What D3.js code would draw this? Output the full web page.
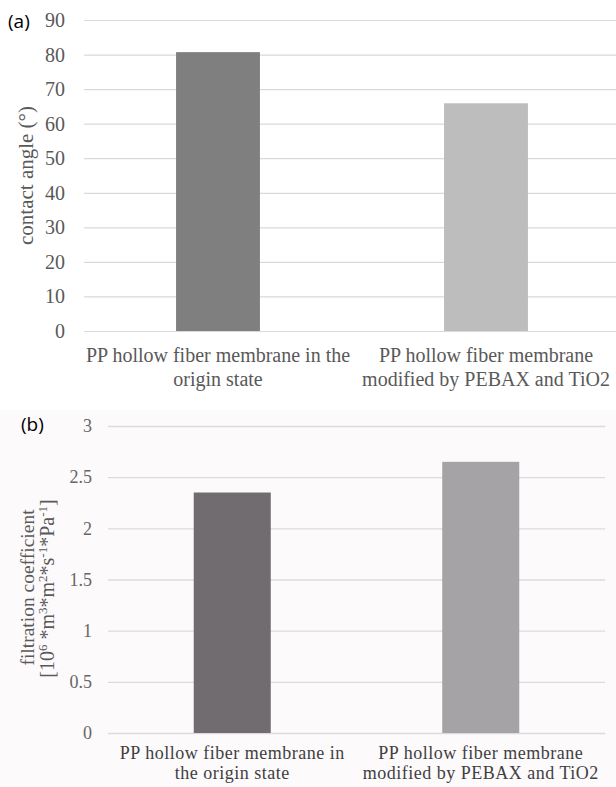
<!DOCTYPE html>
<html>
<head>
<meta charset="utf-8">
<script src="https://cdn.jsdelivr.net/npm/d3@7"></script>
<style>
  html, body { margin: 0; padding: 0; background: #ffffff; }
  svg { display: block; }
  .serif { font-family: "Liberation Serif", "Times New Roman", Times, serif; }
  .sans { font-family: "Open Sans", "Noto Sans", sans-serif; }
</style>
</head>
<body>
<svg id="chart" width="616" height="787"></svg>
<script>
// ---------- data ----------
const categoriesA = ["origin", "modified"];
const labelLinesA = [["PP hollow fiber membrane in the", "origin state"],
                     ["PP hollow fiber membrane", "modified by PEBAX and TiO2"]];
const valuesA = [80.7, 65.9];
const ticksA = [0, 10, 20, 30, 40, 50, 60, 70, 80, 90];

const categoriesB = ["origin", "modified"];
const labelLinesB = [["PP hollow fiber membrane in", "the origin state"],
                     ["PP hollow fiber membrane", "modified by PEBAX and TiO2"]];
const valuesB = [2.35, 2.65];
const ticksB = [0, 0.5, 1, 1.5, 2, 2.5, 3];

const svg = d3.select("#chart");

// ---------- panel (a) ----------
(function () {
  const x = d3.scaleBand().domain(categoriesA).range([84, 620]).paddingInner(0).paddingOuter(0);
  const y = d3.scaleLinear().domain([0, 90]).range([331, 20]);
  const g = svg.append("g");
  const barColors = ["#7f7f7f", "#bdbdbd"];

  g.selectAll("line.grid").data(ticksA).enter().append("line")
    .attr("x1", 84).attr("x2", 616)
    .attr("y1", d => y(d) + 0.5).attr("y2", d => y(d) + 0.5)
    .attr("stroke", "#d9d9d9").attr("stroke-width", 1.2);

  const bw = x.bandwidth() * 0.313;
  g.selectAll("rect.bar").data(valuesA).enter().append("rect")
    .attr("x", (d, i) => x(categoriesA[i]) + x.bandwidth() / 2 - bw / 2)
    .attr("width", bw)
    .attr("y", d => y(d))
    .attr("height", d => y(0) - y(d))
    .attr("fill", (d, i) => barColors[i]);

  g.selectAll("text.tick").data(ticksA).enter().append("text")
    .attr("class", "serif")
    .attr("x", 65).attr("y", d => y(d))
    .attr("dy", "0.35em")
    .attr("text-anchor", "end")
    .attr("font-size", 20)
    .attr("fill", "#595959")
    .text(d => d);

  labelLinesA.forEach((lines, i) => {
    const cx = x(categoriesA[i]) + x.bandwidth() / 2;
    lines.forEach((ln, j) => {
      g.append("text")
        .attr("class", "serif")
        .attr("x", cx).attr("y", 362 + j * 24)
        .attr("text-anchor", "middle")
        .attr("font-size", 20)
        .attr("fill", "#595959")
        .text(ln);
    });
  });

  g.append("text")
    .attr("class", "serif")
    .attr("transform", "translate(33," + ((y(0) + y(90)) / 2) + ") rotate(-90)")
    .attr("text-anchor", "middle")
    .attr("font-size", 21)
    .attr("fill", "#595959")
    .text("contact angle (°)");

  g.append("text")
    .attr("class", "sans")
    .attr("x", 8).attr("y", 28)
    .attr("font-size", 19)
    .attr("fill", "#000")
    .text("(a)");
})();

// ---------- panel (b) ----------
(function () {
  svg.append("rect").attr("x", 0).attr("y", 410).attr("width", 616).attr("height", 377)
    .attr("fill", "#fdfafc");
  const x = d3.scaleBand().domain(categoriesB).range([108, 605]).paddingInner(0).paddingOuter(0);
  const y = d3.scaleLinear().domain([0, 3]).range([733, 426]);
  const g = svg.append("g");
  const barColors = ["#716c70", "#a6a3a7"];

  g.selectAll("line.grid").data(ticksB).enter().append("line")
    .attr("x1", 108).attr("x2", 605)
    .attr("y1", d => y(d) + 0.5).attr("y2", d => y(d) + 0.5)
    .attr("stroke", "#dcdadb").attr("stroke-width", 1.3);

  const bw = x.bandwidth() * 0.31;
  g.selectAll("rect.bar").data(valuesB).enter().append("rect")
    .attr("x", (d, i) => x(categoriesB[i]) + x.bandwidth() / 2 - bw / 2)
    .attr("width", bw)
    .attr("y", d => y(d))
    .attr("height", d => y(0) - y(d))
    .attr("fill", (d, i) => barColors[i]);

  g.selectAll("text.tick").data(ticksB).enter().append("text")
    .attr("class", "serif")
    .attr("x", 92).attr("y", d => y(d))
    .attr("dy", "0.35em")
    .attr("text-anchor", "end")
    .attr("font-size", 18)
    .attr("fill", "#666")
    .text(d => d);

  labelLinesB.forEach((lines, i) => {
    const cx = x(categoriesB[i]) + x.bandwidth() / 2;
    lines.forEach((ln, j) => {
      g.append("text")
        .attr("class", "serif")
        .attr("x", cx).attr("y", 759 + j * 20)
        .attr("text-anchor", "middle")
        .attr("font-size", 18)
        .attr("letter-spacing", 0.5)
        .attr("fill", "#3f3f3f")
        .text(ln);
    });
  });

  g.append("text")
    .attr("class", "serif")
    .attr("transform", "translate(34,587.5) rotate(-90)")
    .attr("text-anchor", "middle")
    .attr("font-size", 19.5)
    .attr("fill", "#595959")
    .text("filtration  coefficient");

  const t2 = g.append("text")
    .attr("class", "serif")
    .attr("transform", "translate(54,588.5) rotate(-90)")
    .attr("text-anchor", "middle")
    .attr("font-size", 20)
    .attr("fill", "#595959");
  const parts = [["[10", "6"], [" *m", "3"], ["*m", "2"], ["*s", "-1"], ["*Pa", "-1"], ["]", null]];
  let shifted = false;
  parts.forEach(([base, sup]) => {
    t2.append("tspan").attr("dy", shifted ? 7 : 0).text(base);
    shifted = false;
    if (sup) {
      t2.append("tspan").attr("dy", -7).attr("font-size", 13).text(sup);
      shifted = true;
    }
  });

  g.append("text")
    .attr("class", "sans")
    .attr("x", 21).attr("y", 431)
    .attr("font-size", 19)
    .attr("fill", "#000")
    .text("(b)");
})();
</script>
</body>
</html>
